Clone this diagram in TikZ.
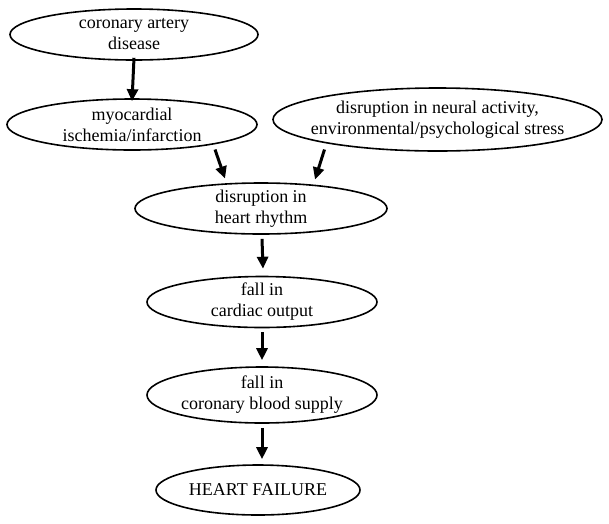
\documentclass[tikz,border=0pt]{standalone}
\usepackage{fontspec}
\setmainfont{Liberation Serif}
\usetikzlibrary{shapes.geometric,arrows.meta}
\begin{document}
\begin{tikzpicture}[x=1pt,y=-1pt,
  ell/.style={draw,ellipse,line width=1.6pt,inner sep=0pt},
  txt/.style={inner sep=0pt,align=center,font=\fontsize{18}{21}\selectfont},
  arr/.style={line width=3pt,-{Triangle[length=12pt,width=11pt]}}]
\useasboundingbox (0,0) rectangle (609,523);
\node[ell,minimum width=248pt,minimum height=51pt] (e1) at (134,34.5) {};
\node[ell,minimum width=250pt,minimum height=51pt] (e2) at (132,124.5) {};
\node[ell,minimum width=329pt,minimum height=63pt] (e3) at (437.5,119.5) {};
\node[ell,minimum width=252pt,minimum height=51pt] (e4) at (261,208.5) {};
\node[ell,minimum width=230pt,minimum height=51pt] (e5) at (262,302) {};
\node[ell,minimum width=230pt,minimum height=56pt] (e6) at (262,395) {};
\node[ell,minimum width=204pt,minimum height=50pt] (e7) at (258,490) {};
\node[txt] (t1) at (e1) {coronary artery\\disease};
\node[txt] (t2) at (e2) {myocardial\\ischemia/infarction};
\node[txt] (t3) at (e3) {disruption in neural activity,\\environmental/psychological stress};
\node[txt] (t4) at (e4) {disruption in\\heart rhythm};
\node[txt] (t5) at (e5) {fall in\\cardiac output};
\node[txt] (t6) at (e6) {fall in\\coronary blood supply};
\node[txt] (t7) at (e7) {HEART FAILURE};
\draw[arr] ([yshift=3pt]e1.south) -- ([yshift=-3pt]e2.north);
\draw[arr] ([shift={(83,25)}]e2.center) -- ([shift={(-36,-30)}]e4.center);
\draw[arr] ([shift={(-113,30)}]e3.center) -- ([shift={(54,-29)}]e4.center);
\draw[arr] ([shift={(1,4)}]e4.south) -- ([shift={(1,-7)}]e5.north);
\draw[arr] ([shift={(0,4)}]e5.south) -- ([shift={(0,-6)}]e6.north);
\draw[arr] ([shift={(0,4)}]e6.south) -- ([shift={(4,-5)}]e7.north);
\end{tikzpicture}
\end{document}
